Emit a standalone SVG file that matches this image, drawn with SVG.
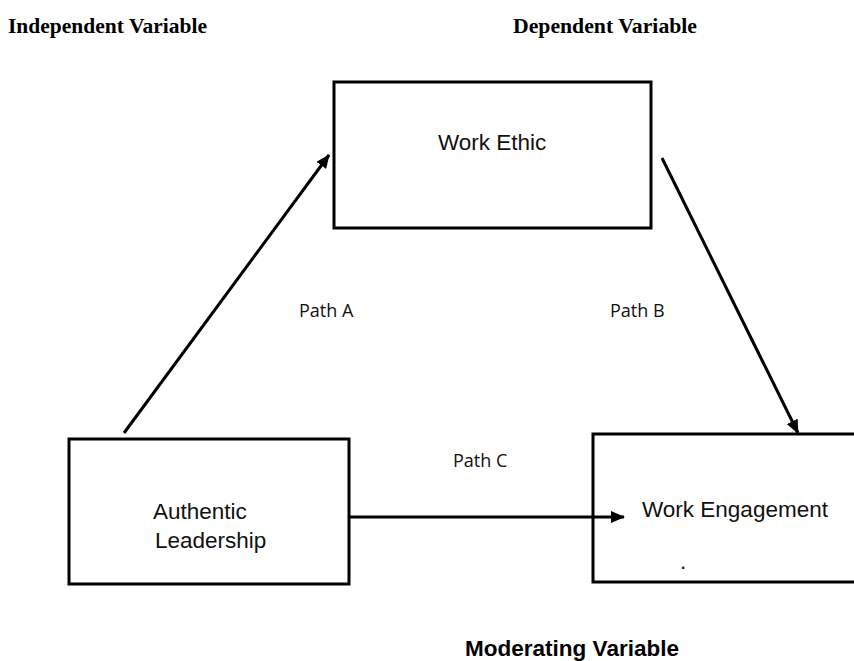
<svg xmlns="http://www.w3.org/2000/svg" width="854" height="661" viewBox="0 0 854 661">
<style>
.box{fill:#fff;stroke:#000;stroke-width:3}
.lbl{font-family:"Liberation Sans",Arial,sans-serif;font-size:22.5px;fill:#111}
.head{font-family:"Liberation Serif","Times New Roman",serif;font-weight:bold;font-size:21.5px;fill:#000}
.path{font-family:"Open Sans","Noto Sans",sans-serif;font-size:18px;fill:#111}
.mod{font-family:"Liberation Sans",Arial,sans-serif;font-weight:bold;font-size:22.5px;fill:#000}
.conn{stroke:#000;stroke-width:3;fill:none;marker-end:url(#arr)}
</style>
<defs>
<marker id="arr" markerUnits="userSpaceOnUse" markerWidth="14" markerHeight="12" refX="13" refY="6" orient="auto">
<path d="M0,0 L14,6 L0,12 Z" fill="#000"/>
</marker>
</defs>
<rect width="854" height="661" fill="#fff"/>
<text class="head" x="8" y="33">Independent Variable</text>
<text class="head" x="513" y="33" textLength="184" lengthAdjust="spacingAndGlyphs">Dependent Variable</text>
<g id="work-ethic">
<rect class="box" x="334" y="82" width="317" height="146"/>
<text class="lbl" x="438" y="150">Work Ethic</text>
</g>
<g id="authentic-leadership">
<rect class="box" x="69" y="439" width="280" height="145"/>
<text class="lbl" x="153" y="519">Authentic</text>
<text class="lbl" x="155" y="548">Leadership</text>
</g>
<g id="work-engagement">
<path class="box" d="M856,434 H593 V582 H856"/>
<text class="lbl" x="642" y="517">Work Engagement</text>
<text class="lbl" x="680" y="569" font-size="14">.</text>
</g>
<g id="connectors">
<line class="conn" x1="124" y1="433" x2="329" y2="155"/>
<line class="conn" x1="662" y1="158" x2="798" y2="433"/>
<line class="conn" x1="349" y1="517" x2="624" y2="517"/>
</g>
<g id="path-labels">
<text class="path" x="299" y="317">Path A</text>
<text class="path" x="610" y="317">Path B</text>
<text class="path" x="453" y="467">Path C</text>
</g>
<text class="mod" x="465" y="656" textLength="214" lengthAdjust="spacingAndGlyphs">Moderating Variable</text>
</svg>
